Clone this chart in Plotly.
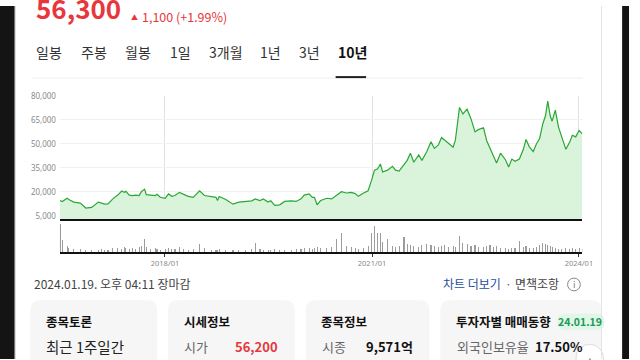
import plotly.graph_objects as go

# ---------------- data ----------------
dates = [
    # 2016
    "2016-06-24", "2016-07-06", "2016-08-01", "2016-08-10", "2016-09-05", "2016-10-10", "2016-11-08", "2016-12-09",
    # 2017
    "2017-01-13", "2017-01-28", "2017-02-16", "2017-03-05", "2017-03-31", "2017-04-26", "2017-05-17", "2017-05-31",
    "2017-06-08", "2017-06-26", "2017-07-13", "2017-07-30", "2017-08-17", "2017-08-29", "2017-09-15", "2017-09-24",
    "2017-10-16", "2017-11-11", "2017-11-20", "2017-12-07",
    # 2018
    "2018-01-02", "2018-01-20", "2018-02-06", "2018-02-23", "2018-03-18", "2018-04-08", "2018-05-04", "2018-05-30",
    "2018-07-03", "2018-07-29", "2018-09-02", "2018-09-28", "2018-10-06", "2018-10-15", "2018-11-19", "2018-12-27",
    # 2019
    "2019-01-27", "2019-03-02", "2019-04-06", "2019-04-23", "2019-05-19", "2019-06-05", "2019-07-01", "2019-07-15",
    "2019-08-05", "2019-08-31", "2019-09-26", "2019-10-31", "2019-11-26", "2019-12-22",
    # 2020
    "2020-01-08", "2020-02-03", "2020-02-20", "2020-03-02", "2020-03-16", "2020-04-04", "2020-05-07", "2020-06-01",
    "2020-06-27", "2020-07-23", "2020-08-18", "2020-09-13", "2020-10-04", "2020-10-20", "2020-11-15", "2020-12-11",
    "2020-12-31",
    # 2021
    "2021-01-14", "2021-01-31", "2021-02-14", "2021-02-26", "2021-03-24", "2021-04-19", "2021-05-05", "2021-05-24",
    "2021-06-19", "2021-07-06", "2021-07-23", "2021-08-10", "2021-09-05", "2021-09-22", "2021-10-18", "2021-11-09",
    "2021-11-27", "2021-12-18",
    # 2022
    "2022-01-04", "2022-01-21", "2022-02-08", "2022-03-06", "2022-03-18", "2022-04-09", "2022-04-27", "2022-05-19",
    "2022-06-09", "2022-06-30", "2022-07-17", "2022-08-14", "2022-08-31", "2022-09-17", "2022-10-05", "2022-10-22",
    "2022-11-12", "2022-12-08", "2022-12-25",
    # 2023
    "2023-01-11", "2023-01-28", "2023-02-20", "2023-03-13", "2023-03-27", "2023-04-13", "2023-05-04", "2023-05-21",
    "2023-06-07", "2023-06-24", "2023-07-08", "2023-07-20", "2023-08-02", "2023-08-12", "2023-08-29", "2023-09-15",
    "2023-10-03", "2023-10-24", "2023-11-14", "2023-11-27", "2023-12-15",
    # 2024
    "2024-01-02", "2024-01-19",
]

close = [
    14600, 14000, 16000, 15200, 13600, 13000, 9900, 10300,
    13600, 13100, 12300, 12500, 15600, 18000, 20500, 19700,
    20300, 18000, 17700, 18000, 17700, 20100, 21700, 18300,
    18000, 17700, 18500, 16600,
    16000, 18700, 17200, 17700, 19700, 18500, 17200, 16600,
    20700, 17700, 17100, 16600, 14600, 17100, 15200, 12300,
    13600, 14000, 14400, 15600, 14600, 15600, 13600, 14400,
    11600, 11900, 14000, 14400, 14000, 15600,
    18000, 18700, 16600, 16600, 11900, 14600, 16000, 15600,
    17700, 20100, 19300, 19700, 18900, 17200, 19100, 20700,
    27800,
    33600, 34400, 37400, 32400, 33600, 36000, 33600, 33000,
    37000, 39700, 44200, 38500, 43100, 39700, 45200, 51300,
    47200, 49300,
    54000, 52300, 50300, 47900, 52300, 72800, 68700, 71700,
    65600, 57500, 58900, 60100, 52000, 47200, 43100, 38100,
    44200, 40100, 35600,
    40500, 39100, 40500, 46600, 52800, 48300, 45200, 49900,
    53400, 62600, 67600, 76800, 67600, 64200, 71100, 60500,
    54400, 46600, 51300, 55400, 54400,
    58400, 56300,
]

volume = [  # thousand shares
    2900, 1200, 600, 400, 300, 300, 200, 200,
    200, 300, 200, 200, 400, 400, 300, 500,
    400, 300, 400, 300, 500, 600, 1300, 500,
    300, 400, 300, 200,
    300, 400, 300, 300, 500, 300, 200, 300,
    800, 400, 200, 200, 200, 300, 200, 200,
    200, 200, 300, 900, 300, 200, 200, 200,
    300, 200, 200, 200, 300, 300,
    400, 400, 300, 400, 500, 400, 400, 500,
    1300, 1900, 600, 500, 400, 300, 400, 600,
    2000,
    2700, 1900, 2000, 1000, 1300, 600, 500, 600,
    1500, 800, 700, 600, 500, 700, 800, 700,
    600, 500,
    600, 700, 500, 600, 500, 1600, 900, 800,
    600, 700, 500, 500, 600, 700, 500, 600,
    400, 400, 300,
    400, 400, 1100, 500, 600, 400, 400, 500,
    700, 900, 800, 700, 600, 500, 400, 300,
    300, 400, 300, 400, 300,
    400, 300,
]

price_ticks = [5000, 20000, 35000, 50000, 65000, 80000]
date_ticks = ["2018-01-01", "2021-01-01", "2024-01-01"]
date_tick_labels = ["2018/01", "2021/01", "2024/01"]

# ---------------- layout helpers ----------------
W, H = 640, 360
KR = "Noto Sans CJK KR, Noto Sans, sans-serif"
RED = "#e8373c"


def px(x):
    return x / W


def py(y):
    return 1 - y / H


def rrect(x0, y0, x1, y1, r, fill, line=None):
    pts = (
        f"M {px(x0 + r)} {py(y0)} L {px(x1 - r)} {py(y0)} "
        f"Q {px(x1)} {py(y0)} {px(x1)} {py(y0 + r)} L {px(x1)} {py(y1 - r)} "
        f"Q {px(x1)} {py(y1)} {px(x1 - r)} {py(y1)} L {px(x0 + r)} {py(y1)} "
        f"Q {px(x0)} {py(y1)} {px(x0)} {py(y1 - r)} L {px(x0)} {py(y0 + r)} "
        f"Q {px(x0)} {py(y0)} {px(x0 + r)} {py(y0)} Z"
    )
    return dict(type="path", path=pts, xref="paper", yref="paper", fillcolor=fill,
                line=dict(width=0 if line is None else 1, color=line or fill), layer="below")


annotations = []


def txt(x, y, s, size, color, bold=False, anchor="left", family=KR):
    annotations.append(dict(
        x=px(x), y=py(y), xref="paper", yref="paper",
        text=f"<b>{s}</b>" if bold else s, showarrow=False,
        xanchor=anchor, yanchor="middle",
        font=dict(size=size, color=color, family=family),
    ))


X0, X1 = 61, 592.5

fig = go.Figure()
fig.add_trace(go.Scatter(
    x=dates, y=close, mode="lines",
    line=dict(color="#2aa735", width=1.2),
    fill="tozeroy", fillcolor="#d9f4da",
    xaxis="x", yaxis="y", hoverinfo="skip",
))
fig.add_trace(go.Bar(
    x=dates, y=volume, marker=dict(color="#9c9c9c", line=dict(width=0)),
    width=6 * 86400000, xaxis="x2", yaxis="y2", hoverinfo="skip",
))

# header texts
txt(35, 1.5, "56,300", 26, RED, bold=True)
txt(136.5, 11, "▲", 7, RED, anchor="center")
txt(142, 11, "1,100 (+1.99%)", 12.5, RED)

tabs = [("일봉", 35), ("주봉", 80), ("월봉", 125.5), ("1일", 171), ("3개월", 210.5), ("1년", 263), ("3년", 302.5)]
for label, x in tabs:
    txt(x, 46.5, label, 14, "#333333")
txt(341.5, 46.5, "10년", 14, "#111111", bold=True)

# status line
txt(33, 282.5, "2024.01.19. 오후 04:11 장마감", 12, "#444444")
txt(449, 282.5, "차트 더보기", 12, "#1f4f9a")
txt(517, 282.5, "·", 12, "#666666", anchor="center")
txt(522, 282.5, "면책조항", 12, "#444444")

# cards
cards = [31, 171, 311, 448]
card_right = [160, 300, 437, 612]
titles = ["종목토론", "시세정보", "종목정보", "투자자별 매매동향"]
for cx, title in zip(cards, titles):
    txt(cx + 14, 322, title, 12.5, "#111111", bold=True)
txt(45, 347, "최근 1주일간", 14.5, "#222222")
txt(185, 347, "시가", 13, "#666666")
txt(237, 347, "56,200", 13, RED, bold=True)
txt(326, 347, "시종", 13, "#666666")
txt(370, 347, "9,571억", 13, "#111111", bold=True)
txt(463, 347, "외국인보유율", 13, "#666666")
txt(542, 347, "17.50%", 13, "#111111", bold=True)
txt(590, 322, "24.01.19", 10.5, "#1a9c55", bold=True, anchor="center")
txt(600, 360, "›", 14, "#444444", anchor="center")
txt(584, 284, "i", 9, "#777777", anchor="center")

shapes = []
for x0, x1 in zip(cards, card_right):
    shapes.append(rrect(x0, 300, x1, 400, 10, "#f6f6f7"))
shapes.append(rrect(567, 313.5, 615, 330.5, 8, "#e1f5e8"))
shapes.append(dict(type="circle", xref="paper", yref="paper",
                   x0=px(577.5), x1=px(590.5), y0=py(290.5), y1=py(277.5),
                   line=dict(color="#888888", width=1), fillcolor="rgba(0,0,0,0)"))
shapes.append(dict(type="circle", xref="paper", yref="paper",
                   x0=px(586), x1=px(614), y0=py(373), y1=py(345),
                   line=dict(color="#dddddd", width=1), fillcolor="white"))
# tab separator + underline
shapes.append(dict(type="line", xref="paper", yref="paper", x0=px(33), x1=px(593), y0=py(73.5), y1=py(73.5),
                   line=dict(color="#eeeeee", width=1)))
shapes.append(dict(type="line", xref="paper", yref="paper", x0=px(341.5), x1=px(372.5), y0=py(72.5), y1=py(72.5),
                   line=dict(color="#222222", width=2)))
# window frame
shapes.append(dict(type="line", xref="paper", yref="paper", x0=px(612), x1=px(612), y0=0, y1=1,
                   line=dict(color="#e4e4e4", width=1)))
shapes.append(dict(type="rect", xref="paper", yref="paper", x0=0, x1=px(15), y0=0, y1=1,
                   fillcolor="#141414", line=dict(width=0)))
shapes.append(dict(type="line", xref="paper", yref="paper", x0=px(15.5), x1=px(15.5), y0=0, y1=1,
                   line=dict(color="#cfcfcf", width=1)))
shapes.append(dict(type="rect", xref="paper", yref="paper", x0=px(633), x1=1, y0=0, y1=1,
                   fillcolor="#141414", line=dict(width=0)))

fig.update_layout(
    width=W, height=H, autosize=False,
    margin=dict(l=0, r=0, t=0, b=0, pad=0),
    paper_bgcolor="white", plot_bgcolor="white",
    showlegend=False, hovermode=False, bargap=0,
    font=dict(family=KR),
    annotations=annotations, shapes=shapes,
    xaxis=dict(
        type="date", domain=[px(X0), px(X1)], range=["2016-06-24", "2024-01-19"],
        anchor="y", tickvals=date_ticks, showticklabels=False, ticks="",
        showgrid=True, gridcolor="#e2e2e2", gridwidth=1,
        showline=True, linecolor="#111111", linewidth=1.5, zeroline=False, fixedrange=True,
    ),
    yaxis=dict(
        domain=[py(217.7), py(91.7)], range=[2740, 80000], anchor="x",
        tickvals=price_ticks, tickformat=",d", ticks="",
        tickfont=dict(size=8, color="#8a8a8a", family="Noto Sans, sans-serif"),
        ticklabelstandoff=3,
        showgrid=True, gridcolor="#f1f1f1", zeroline=False, showline=False, fixedrange=True,
    ),
    xaxis2=dict(
        type="date", domain=[px(X0), px(X1)], range=["2016-06-24", "2024-01-19"],
        anchor="y2", tickvals=date_ticks, ticktext=date_tick_labels,
        ticks="outside", ticklen=3, tickcolor="#333333", tickwidth=1,
        tickfont=dict(size=7.5, color="#8a8a8a", family="Noto Sans, sans-serif"),
        showgrid=False, showline=True, linecolor="#111111", linewidth=1.5, zeroline=False, fixedrange=True,
    ),
    yaxis2=dict(
        domain=[py(251), py(221.5)], range=[0, 2950], anchor="x2", visible=False, fixedrange=True,
    ),
)

fig.write_html(
    "out.html",
    config={"displayModeBar": False, "staticPlot": True},
    post_script="document.body.style.margin='0';document.body.style.padding='0';document.body.style.overflow='hidden';",
)
